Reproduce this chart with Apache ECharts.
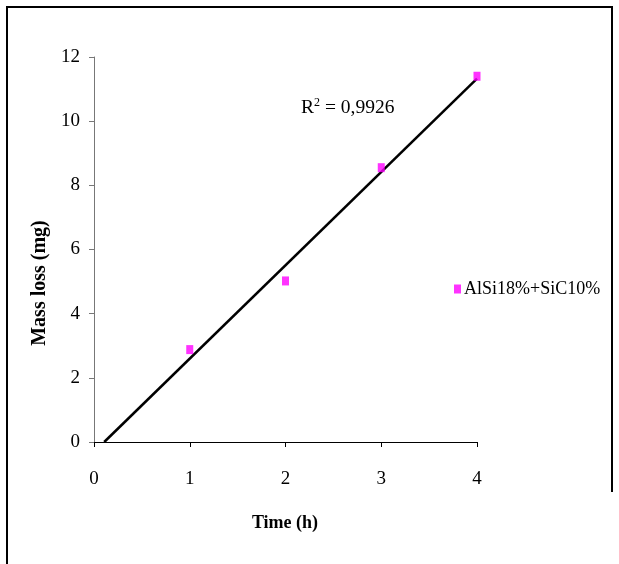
<!DOCTYPE html>
<html>
<head>
<meta charset="utf-8">
<script src="https://cdn.jsdelivr.net/npm/echarts@6/dist/echarts.min.js"></script>
<style>
html,body{margin:0;padding:0;background:#fff;}
#chart{width:619px;height:564px;}
</style>
</head>
<body>
<div id="chart"></div>
<script>
// Data
const seriesName = 'AlSi18%+SiC10%';
const timeValues = [1, 2, 3, 4];
const massLoss = [2.88, 5.02, 8.55, 11.4];
const r2Label = '0,9926';
const xTicks = [0, 1, 2, 3, 4];
const yTicks = [0, 2, 4, 6, 8, 10, 12];

// linear regression trend line (computed from the data)
const n = timeValues.length;
const mx = timeValues.reduce((a, b) => a + b, 0) / n;
const my = massLoss.reduce((a, b) => a + b, 0) / n;
let sxy = 0, sxx = 0;
for (let i = 0; i < n; i++) { sxy += (timeValues[i] - mx) * (massLoss[i] - my); sxx += (timeValues[i] - mx) ** 2; }
const slope = sxy / sxx;
const intercept = my - slope * mx;
const xStart = -intercept / slope;
const trend = [[xStart, 0], [4, slope * 4 + intercept]];

const serif = '"Liberation Serif", "Times New Roman", serif';
const chart = echarts.init(document.getElementById('chart'));
chart.setOption({
  animation: false,
  backgroundColor: '#ffffff',
  grid: { left: 94, right: 142, top: 57, bottom: 122, containLabel: false },
  xAxis: {
    type: 'value', min: 0, max: 4, interval: 1,
    axisLine: { show: true, onZero: false, lineStyle: { color: '#000', width: 1 } },
    axisTick: { show: true, length: 5, lineStyle: { color: '#000' } },
    axisLabel: { margin: 28, fontFamily: serif, fontSize: 19, color: '#000' },
    splitLine: { show: false }
  },
  yAxis: {
    type: 'value', min: 0, max: 12, interval: 2,
    axisLine: { show: true, lineStyle: { color: '#777', width: 1 } },
    axisTick: { show: true, length: 5, lineStyle: { color: '#777' } },
    axisLabel: { margin: 14, fontFamily: serif, fontSize: 19, color: '#000' },
    splitLine: { show: false }
  },
  legend: {
    show: true, left: 449, top: 275, orient: 'vertical',
    icon: 'rect', itemWidth: 7, itemHeight: 9, itemGap: 5,
    data: [seriesName],
    textStyle: { fontFamily: serif, fontSize: 18, color: '#000', padding: [0, 0, 0, -2] }
  },
  series: [
    {
      name: 'trend', type: 'line', data: trend, symbol: 'none',
      lineStyle: { color: '#000', width: 2.5 }, silent: true, z: 2
    },
    {
      name: seriesName, type: 'scatter',
      data: timeValues.map((t, i) => [t, massLoss[i]]),
      symbol: 'rect', symbolSize: [7, 9],
      itemStyle: { color: '#ff00ff' }, z: 3
    }
  ],
  graphic: [
    { type: 'polyline', shape: { points: [[7, 564], [7, 7], [612, 7], [612, 492]] }, style: { fill: 'none', stroke: '#000', lineWidth: 2 }, silent: true },
    {
      type: 'text', left: 301, top: 97,
      style: {
        rich: {
          b: { fontFamily: serif, fontSize: 19.5, fill: '#000' },
          s: { fontFamily: serif, fontSize: 12, fill: '#000', verticalAlign: 'top', padding: [0, 0, 10, 0] }
        },
        text: '{b|R}{s|2}{b| = ' + r2Label + '}'
      }
    },
    {
      type: 'text', x: 285, y: 523,
      style: { text: 'Time (h)', fontFamily: serif, fontWeight: 'bold', fontSize: 18, fill: '#000', align: 'center', verticalAlign: 'middle' }
    },
    {
      type: 'text', x: 40, y: 283, rotation: Math.PI / 2,
      style: { text: 'Mass loss (mg)', fontFamily: serif, fontWeight: 'bold', fontSize: 20, fill: '#000', align: 'center', verticalAlign: 'middle' }
    }
  ]
});
</script>
</body>
</html>
